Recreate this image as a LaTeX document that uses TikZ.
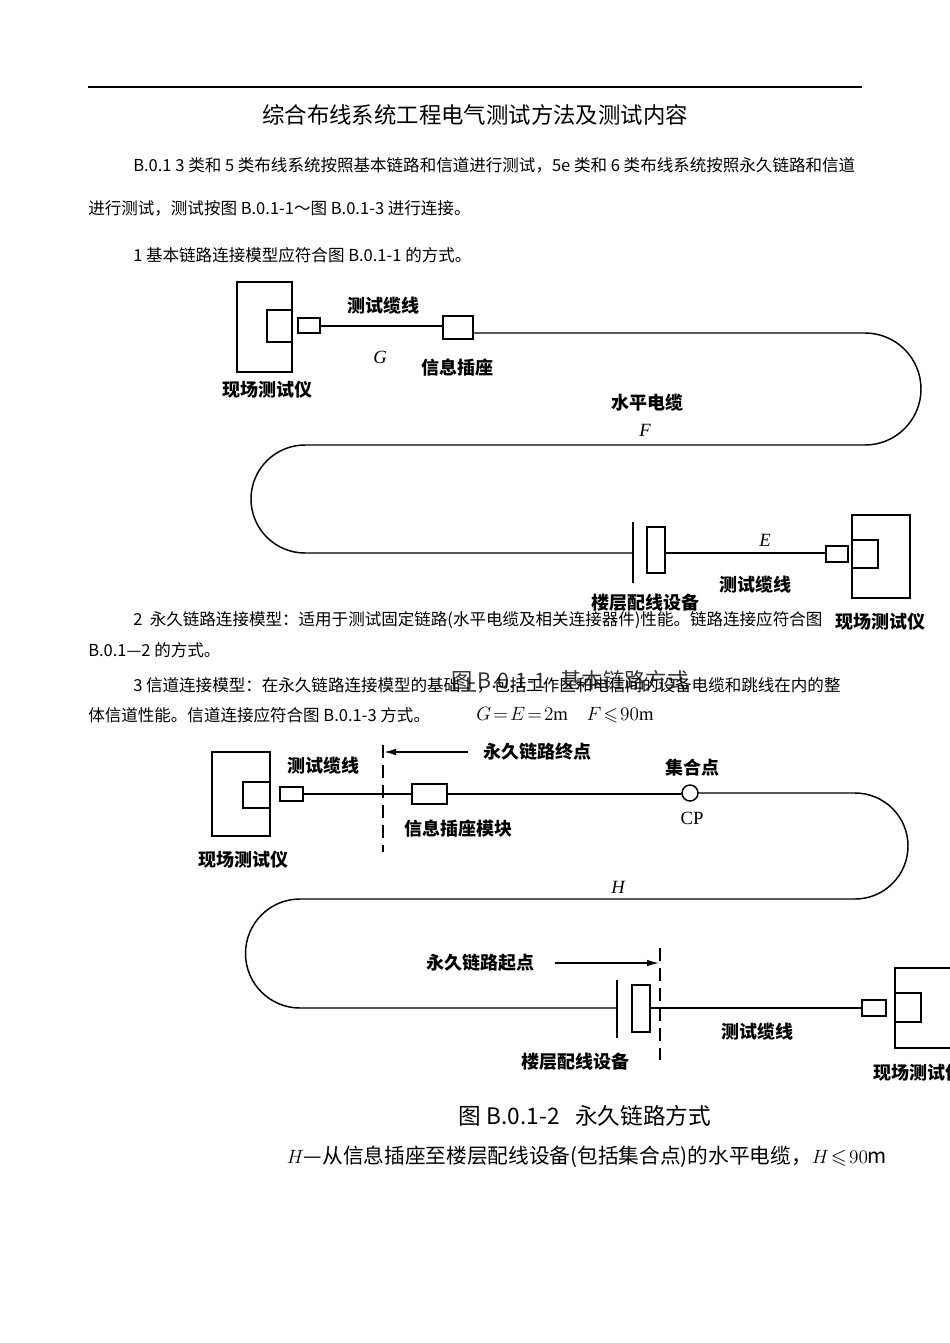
\documentclass[tikz,border=0pt]{standalone}
\usepackage{amssymb}
\usepackage{fontspec}
\setmainfont{Liberation Serif}
\newfontfamily\cjk{Noto Sans CJK SC}
\usetikzlibrary{arrows.meta}
\begin{document}
\begin{tikzpicture}[x=0.75pt,y=-0.75pt,
 ln/.style={line width=1.1pt},
 bx/.style={draw,line width=1.1pt},
 body/.style={font=\cjk\fontsize{12.4}{14}\selectfont,anchor=west,inner sep=0},
 lab/.style={font=\cjk\bfseries\fontsize{13.5}{15}\selectfont,inner sep=0},
 it/.style={font=\itshape\fontsize{14}{15}\selectfont,inner sep=0}]
\useasboundingbox (0,0) rectangle (950,1343);
\draw[line width=0.8pt] (88,87) -- (862,87);
\node[font=\cjk\fontsize{16.8}{18}\selectfont] (title) at (475,115) {综合布线系统工程电气测试方法及测试内容};
\node[body] (p1) at (133,165) {B.0.1 3 类和 5 类布线系统按照基本链路和信道进行测试，5e 类和 6 类布线系统按照永久链路和信道};
\node[body] (p2) at (88,208) {进行测试，测试按图 B.0.1-1～图 B.0.1-3 进行连接。};
\node[body] (p3) at (133,255) {1 基本链路连接模型应符合图 B.0.1-1 的方式。};
\node[body] (p4) at (133,620) {2\ \ 永久链路连接模型：适用于测试固定链路(水平电缆及相关连接器件)性能。链路连接应符合图};
\node[body] (p5) at (88,650) {B.0.1—2 的方式。};
\node[body] (p6) at (133,685) {3 信道连接模型：在永久链路连接模型的基础上，包括工作区和电信间的设备电缆和跳线在内的整};
\node[body] (p7) at (88,715) {体信道性能。信道连接应符合图 B.0.1-3 方式。};
% diagram 1
\draw[bx] (237,282) rectangle (292,372); \draw[bx] (267,310) rectangle (292,342);
\draw[bx] (298,318) rectangle (320,333);
\draw[ln] (320,326) -- (443,326);
\draw[bx] (443,316) rectangle (473,339);
\draw[ln] (473,333) -- (865,333) arc[start angle=-90,end angle=90,radius=56] -- (305,445) arc[start angle=-90,end angle=-270,radius=54] -- (633,553);
\draw[ln] (633,522) -- (633,583);
\draw[bx] (647,527) rectangle (665,573);
\draw[ln] (665,553) -- (826,553);
\draw[bx] (826,546) rectangle (848,562);
\draw[bx] (852,515) rectangle (910,598); \draw[bx] (852,540) rectangle (878,568);
\node[lab] (a1) at (383,306) {测试缆线};
\node[it] (a2) at (380,357) {G};
\node[lab] (a3) at (457,368) {信息插座};
\node[lab] (a4) at (267,390) {现场测试仪};
\node[lab] (a5) at (647,403) {水平电缆};
\node[it] (a6) at (645,430) {F};
\node[it] (a7) at (765,540) {E};
\node[lab] (a8) at (755,585) {测试缆线};
\node[lab] (a9) at (645,603) {楼层配线设备};
\node[lab] (a10) at (880,622) {现场测试仪};
\node[font=\cjk\fontsize{16}{18}\selectfont,opacity=0.8] (c1) at (570,680) {图 B.0.1-1\ \ \ 基本链路方式};
\node[font=\fontsize{14}{16}\selectfont] (c2) at (565,715) {$G\!=\!E\!=\!2$m\quad $F\!\leqslant\!90$m};
% diagram 2
\draw[bx] (212,752) rectangle (270,836); \draw[bx] (243,782) rectangle (270,808);
\draw[bx] (280,787) rectangle (303,801);
\draw[ln] (303,794) -- (412,794);
\draw[bx] (412,784) rectangle (447,804);
\draw[ln] (447,794) -- (682,794);
\draw[bx] (690,793) circle[radius=8];
\draw[ln] (698,793) -- (855,793) arc[start angle=-90,end angle=90,radius=53] -- (300,899) arc[start angle=-90,end angle=-270,radius=54.5] -- (617,1008);
\draw[ln] (617,980) -- (617,1038);
\draw[bx] (632,985) rectangle (650,1032);
\draw[ln] (650,1008) -- (862,1008);
\draw[bx] (862,1000) rectangle (886,1016);
\draw[bx] (895,968) rectangle (960,1048); \draw[bx] (895,993) rectangle (921,1022);
\draw[ln,dashed,dash pattern=on 10pt off 5pt] (383,745) -- (383,852);
\draw[ln,dashed,dash pattern=on 10pt off 5pt] (660,948) -- (660,1060);
\node[lab] (b1) at (537,752) {永久链路终点};
\draw[ln,-{Latex[length=9pt,width=5pt]}] (468,752) -- (384,752);
\node[lab] (b2) at (480,963) {永久链路起点};
\draw[ln,-{Latex[length=9pt,width=5pt]}] (555,963) -- (659,963);
\node[lab] (b3) at (323,766) {测试缆线};
\node[lab] (b4) at (692,768) {集合点};
\node[font=\fontsize{14}{15}\selectfont] (b5) at (692,818) {CP};
\node[lab] (b6) at (458,829) {信息插座模块};
\node[lab] (b7) at (243,860) {现场测试仪};
\node[it] (b8) at (618,887) {H};
\node[lab] (b9) at (757,1032) {测试缆线};
\node[lab] (b10) at (575,1062) {楼层配线设备};
\node[lab,anchor=west] (b11) at (873,1073) {现场测试仪};
\node[font=\cjk\fontsize{17}{18}\selectfont] (c3) at (585,1116) {图 B.0.1-2\ \ \ 永久链路方式};
\node[font=\cjk\fontsize{15.5}{17}\selectfont] (c4) at (587,1157) {$H$—从信息插座至楼层配线设备(包括集合点)的水平电缆，$H\!\leqslant\!90$m};
\end{tikzpicture}
\end{document}
